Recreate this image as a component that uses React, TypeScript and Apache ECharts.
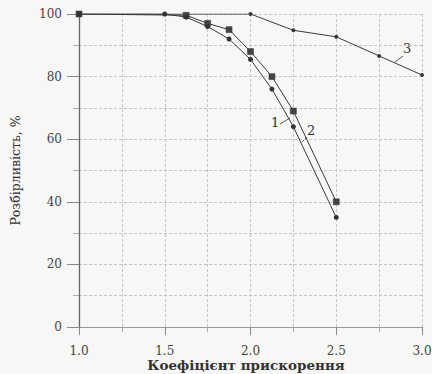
import React, { useEffect, useRef } from "react";
import * as echarts from "echarts";

const curve1: [number, number][] = [
  [1.0, 100], [1.5, 100], [1.625, 99], [1.75, 96], [1.875, 92],
  [2.0, 85.5], [2.125, 76], [2.25, 64], [2.5, 35],
];
const curve2: [number, number][] = [
  [1.0, 100], [1.625, 99.6], [1.75, 97], [1.875, 95], [2.0, 88],
  [2.125, 80], [2.25, 69], [2.5, 40],
];
const curve3: [number, number][] = [
  [1.0, 100], [2.0, 100], [2.25, 94.8], [2.5, 92.7], [2.75, 86.6], [3.0, 80.5],
];
const curveLabels = ["1", "2", "3"];
const xTitle = "Коефіцієнт прискорення";
const yTitle = "Розбірливість, %";

const FONT = "'DejaVu Serif', 'Liberation Serif', serif";
const INK = "#3a3a3a";

export default function App() {
  const ref = useRef<HTMLDivElement>(null);
  useEffect(() => {
    if (!ref.current) return;
    const chart = echarts.init(ref.current, undefined, { renderer: "svg" });
    const gridLine = { show: true, lineStyle: { color: "#c4c4c4", type: [3, 2] as any, width: 1 } };
    chart.setOption({
      animation: false,
      backgroundColor: "#f7f7f5",
      grid: { left: 79, right: 10, top: 14, bottom: 47, containLabel: false, outerBoundsMode: "none" },
      xAxis: {
        type: "value",
        min: 1,
        max: 3,
        interval: 0.5,
        axisLine: { show: true, onZero: false, lineStyle: { color: "#999", width: 1 } },
        axisTick: { show: true, length: 8, lineStyle: { color: "#888" } },
        minorTick: { show: true, splitNumber: 2, length: 5, lineStyle: { color: "#aaa" } },
        axisLabel: {
          margin: 18,
          fontFamily: FONT,
          fontSize: 12,
          color: "#444",
          formatter: (v: number) => v.toFixed(1),
        },
        splitLine: gridLine,
        minorSplitLine: gridLine,
      },
      yAxis: {
        type: "value",
        min: 0,
        max: 100,
        interval: 20,
        name: yTitle,
        nameLocation: "middle",
        nameGap: 57,
        nameTextStyle: { fontFamily: FONT, fontSize: 12.5, color: "#333" },
        axisLine: { show: true, lineStyle: { color: "#666", width: 1.3 } },
        axisTick: { show: true, length: 12, lineStyle: { color: "#888" } },
        minorTick: { show: true, splitNumber: 2, length: 6, lineStyle: { color: "#aaa" } },
        axisLabel: { margin: 17, fontFamily: FONT, fontSize: 12, color: "#444" },
        splitLine: gridLine,
        minorSplitLine: gridLine,
      },
      series: [
        {
          type: "line",
          data: curve3,
          symbol: "circle",
          symbolSize: 4,
          showAllSymbol: true,
          lineStyle: { color: INK, width: 1 },
          itemStyle: { color: INK },
        },
        {
          type: "line",
          data: curve2,
          symbol: "rect",
          symbolSize: 6,
          lineStyle: { color: INK, width: 1 },
          itemStyle: { color: "#444", borderColor: "#333", borderWidth: 0.5 },
        },
        {
          type: "line",
          data: curve1,
          symbol: "circle",
          symbolSize: 5,
          lineStyle: { color: INK, width: 1 },
          itemStyle: { color: "#333" },
        },
      ],
      graphic: [
        {
          type: "text",
          x: 246,
          y: 365,
          style: {
            text: xTitle,
            font: `bold 13.5px ${FONT}`,
            fill: "#333",
            align: "center",
            verticalAlign: "middle",
          },
        },
        { type: "text", left: 271, top: 116, style: { text: curveLabels[0], font: `13px ${FONT}`, fill: "#333" } },
        { type: "line", shape: { x1: 280, y1: 124, x2: 290, y2: 118 }, style: { stroke: "#555", lineWidth: 1 } },
        { type: "text", left: 307, top: 124, style: { text: curveLabels[1], font: `13px ${FONT}`, fill: "#333" } },
        { type: "line", shape: { x1: 307, y1: 137, x2: 302, y2: 142 }, style: { stroke: "#555", lineWidth: 1 } },
        { type: "text", left: 403, top: 42, style: { text: curveLabels[2], font: `13px ${FONT}`, fill: "#333" } },
        { type: "line", shape: { x1: 403, y1: 56, x2: 395, y2: 62 }, style: { stroke: "#555", lineWidth: 1 } },
      ],
    });
    return () => chart.dispose();
  }, []);
  return (
    <div
      ref={ref}
      style={{ position: "fixed", left: 0, top: 0, width: 432, height: 374 }}
    />
  );
}
